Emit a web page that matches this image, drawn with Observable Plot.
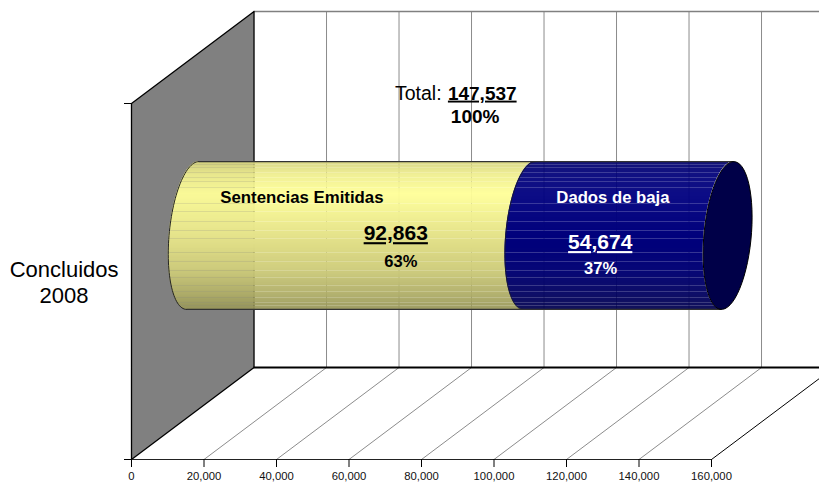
<!DOCTYPE html>
<html>
<head>
<meta charset="utf-8">
<style>html,body{margin:0;padding:0;background:#fff}svg{display:block}</style>
<script src="https://cdn.jsdelivr.net/npm/d3@7"></script>
<script src="https://cdn.jsdelivr.net/npm/@observablehq/plot@0.6"></script>
</head>
<body>
<script>
const category = "Concluidos\n2008";
const sentencias = 92863;
const dados = 54674;
const total = 147537;
const ticks = [0, 20000, 40000, 60000, 80000, 100000, 120000, 140000, 160000];
const yellowStops = ["#d6d47e", "#efee8e", "#ffff99", "#e3e18a", "#cfcd7c", "#b0ae68", "#97965a"];
const blueStops = ["#00006c", "#00007a", "#000080", "#00007c", "#000074", "#000060", "#00004e"];
const stopAt = [0, 0.09, 0.22, 0.52, 0.73, 0.9, 1];
const seams = [3, 6, 11, 16, 20, 26, 42, 50, 60, 69, 77, 91, 100, 109, 116, 124, 130, 136, 141, 144];

// oblique projection of the 3-D plot box, in data units
const depthX = 33800, depthY = 0.2584;
const ry = 0.2011, rd = 0.2, cy = 0.5, cd = 0.5;
const R = Math.hypot(ry, rd * depthY), phi = Math.atan2(rd * depthY, ry);
const Yc = cy + cd * depthY;
const rows = 148, rowH = 2 * R / rows;
const circle = (v, t) => ({
  x: v + (cd + rd * Math.sin(t)) * depthX,
  y: cy + ry * Math.cos(t) + (cd + rd * Math.sin(t)) * depthY
});
const nearX = (v, w) => circle(v, phi - Math.acos(Math.max(-1, Math.min(1, w)))).x;
const yellow = d3.scaleLinear().domain(stopAt).range(yellowStops);
const blue = d3.scaleLinear().domain(stopAt).range(blueStops);

const bandRows = d3.range(rows).map(i => {
  const y1 = Yc + R - i * rowH, y2 = y1 - rowH, w = (y1 + y2) / 2 - Yc;
  return {
    i, y1, y2,
    a: nearX(0, w / R), b: nearX(sentencias, w / R), c: nearX(total, w / R),
    u: (i + 0.5) / rows, o: seams.includes(i) ? 0.8 : 1
  };
});
const arc = (v, a, b) => d3.range(0, 61).map(k => circle(v, a + (b - a) * k / 60));
const frontArc = v => arc(v, phi, phi - Math.PI);
const capRing = arc(total, 0, 2 * Math.PI);
const backX = v => v + depthX, backY = y => y + depthY;
const wall = [[0, 0], [backX(0), backY(0)], [backX(0), backY(1)], [0, 1], [0, 0]].map(([x, y]) => ({x, y}));
const inner = ticks.slice(1, 8);

const underline = (thick) => (i, s, v, d, c, next) => {
  const g = next(i, s, v, d, c);
  d3.select(g).style("text-decoration", "underline").style("text-decoration-thickness", thick);
  return g;
};
const label = (text, x, y, size, fill, extra = {}) =>
  Plot.text([text], {x: () => x, y: () => y, text: d => d, fontSize: size, fill, fontWeight: "bold", ...extra});

const fmt = d3.format(",");
const plot = Plot.plot({
  width: 819, height: 482,
  marginLeft: 131, marginRight: 108, marginTop: 103, marginBottom: 23,
  style: {fontFamily: "'Liberation Sans', Arial, sans-serif", background: "#fff", overflow: "hidden"},
  x: {domain: [0, 160000]},
  y: {domain: [0, 1]},
  marks: [
    // back wall grid
    Plot.ruleX(inner, {x: backX, y1: backY(0), y2: backY(1), stroke: "#8c8c8c", strokeWidth: 1}),
    Plot.ruleX([160000], {x: backX, y1: backY(0), y2: backY(1), stroke: "#bdbdbd", strokeWidth: 2}),
    Plot.ruleY([1], {y: backY, x1: backX(0), x2: 200000, stroke: "#808080", strokeWidth: 1.5}),
    // floor grid
    Plot.link(inner, {x1: d => d, y1: 0, x2: backX, y2: backY(0), stroke: "#8c8c8c", strokeWidth: 1}),
    Plot.link([160000], {x1: d => d, y1: 0, x2: d => d + 2 * depthX, y2: 2 * depthY, stroke: "#000", strokeWidth: 1}),
    // side wall
    Plot.line(wall, {x: "x", y: "y", fill: "#808080", stroke: "#000", strokeWidth: 1.3}),
    Plot.ruleY([0], {y: backY, x1: backX(0), x2: 200000, stroke: "#000", strokeWidth: 2}),
    Plot.ruleY([0], {x1: 0, x2: 160000, stroke: "#222", strokeWidth: 1}),
    // cylinder
    Plot.rect(bandRows, {x1: "a", x2: "b", y1: "y1", y2: "y2", fill: d => yellow(d.u), fillOpacity: "o"}),
    Plot.rect(bandRows, {x1: "b", x2: "c", y1: "y1", y2: "y2", fill: d => blue(d.u), fillOpacity: "o"}),
    Plot.line(frontArc(sentencias), {x: "x", y: "y", stroke: "#1a1a30", strokeWidth: 1}),
    Plot.line(frontArc(0), {x: "x", y: "y", stroke: "#222", strokeWidth: 1}),
    Plot.link([Yc + R, Yc - R], {
      x1: y => circle(0, y > Yc ? phi : phi - Math.PI).x,
      x2: y => circle(total, y > Yc ? phi : phi - Math.PI).x,
      y1: y => y, y2: y => y, stroke: "#333", strokeWidth: 1.2
    }),
    Plot.line(capRing, {x: "x", y: "y", fill: "#000048", stroke: "#000", strokeWidth: 1}),
    // axes
    Plot.axisX({ticks, tickFormat: fmt, tickSize: 8, tickPadding: 4, fontSize: 11.3, label: null, stroke: "#000", color: "#111"}),
    Plot.axisY({ticks: [0, 1], tickFormat: () => "", tickSize: 7, label: null, stroke: "#000"}),
    // labels
    Plot.text([category], {x: () => -18600, y: () => 0.5, text: d => d, fontSize: 22, lineHeight: 1.18, fill: "#000"}),
    label("Total:", 79100, 1.028, 19.5, "#000", {fontWeight: "normal"}),
    label(fmt(total), 96760, 1.028, 19, "#000", {render: underline("3px")}),
    label("100%", 94800, 0.9635, 19, "#000"),
    label("Sentencias Emitidas", 47000, 0.736, 16.8, "#000"),
    label(fmt(sentencias), 72900, 0.635, 21, "#000", {render: underline("3px")}),
    label("63%", 74300, 0.555, 16.5, "#000"),
    label("Dados de baja", 132800, 0.736, 16.7, "#fff"),
    label(fmt(dados), 129300, 0.61, 21, "#fff", {render: underline("2px")}),
    label("37%", 129400, 0.535, 16.5, "#fff")
  ]
});
document.body.appendChild(plot);
</script>
</body>
</html>
